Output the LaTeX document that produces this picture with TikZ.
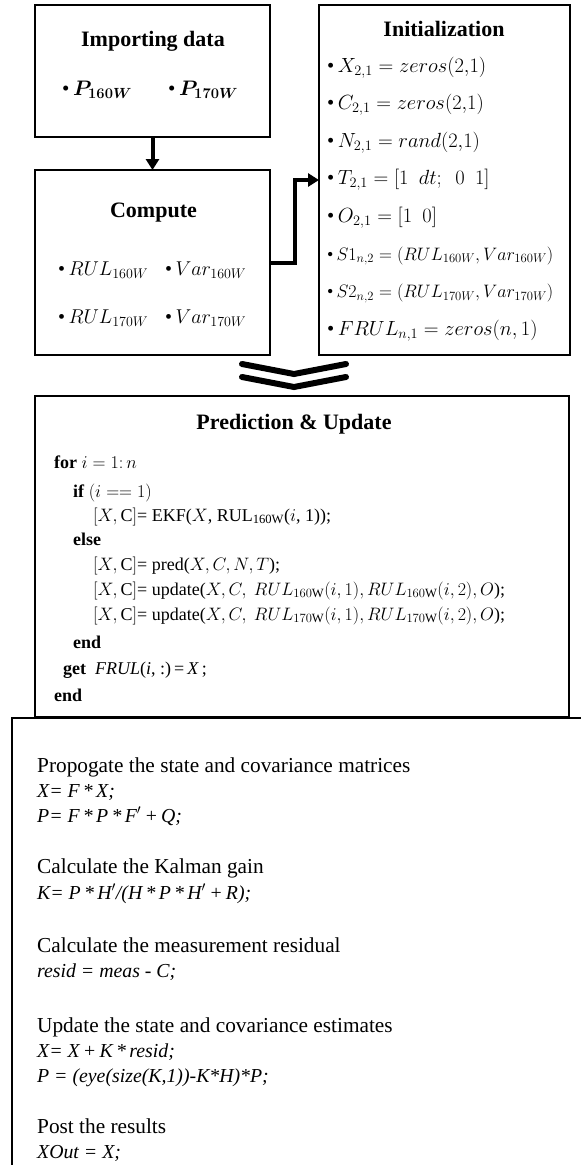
\RequirePackage{fix-cm}
\documentclass[tikz,border=0pt]{standalone}
\usepackage{amsmath,bm}
\usepackage{fontspec}
\setmainfont{Liberation Serif}
\usetikzlibrary{arrows.meta}
\newcommand{\ttlfont}{\fontsize{22}{26}\selectfont\bfseries}
\newcommand{\impfont}{\fontsize{21}{25}\selectfont}
\newcommand{\cmpfont}{\fontsize{20}{24}\selectfont}
\newcommand{\itmfont}{\fontsize{20.5}{24}\selectfont}
\newcommand{\smlfont}{\fontsize{18}{22}\selectfont}
\newcommand{\codefont}{\fontsize{18}{22}\selectfont}
\newcommand{\headfont}{\fontsize{21.3}{25}\selectfont}
\newcommand{\formfont}{\fontsize{19.8}{23}\selectfont\itshape}
\newcommand{\bul}{\textbullet\,}
\tikzset{
  boxx/.style={draw, line width=2.2pt, inner sep=0pt, outer sep=0pt},
  ttl/.style={font=\ttlfont, anchor=base, inner sep=0pt},
  impi/.style={font=\impfont, anchor=base west, inner sep=0pt},
  cmpi/.style={font=\cmpfont, anchor=base west, inner sep=0pt},
  itm/.style={font=\itmfont, anchor=base west, inner sep=0pt},
  sml/.style={font=\smlfont, anchor=base west, inner sep=0pt},
  code/.style={font=\codefont, anchor=base west, inner sep=0pt},
  head/.style={font=\headfont, anchor=base west, inner sep=0pt},
  form/.style={font=\formfont, anchor=base west, inner sep=0pt},
  arr/.style={line width=4pt, -{Triangle[length=11pt,width=13pt]}},
  chev/.style={line width=6pt, line cap=round, line join=miter}
}
\begin{document}
\begin{tikzpicture}[x=1pt,y=-1pt]
\useasboundingbox (0,0) rectangle (581,1165);
\clip (0,0) rectangle (581,1165);
\fill[white] (0,0) rectangle (581,1165);
% boxes
\node[boxx, minimum width=235pt, minimum height=132pt] (imp) at (152.5,71) {};
\node[boxx, minimum width=235pt, minimum height=185pt] (cmp) at (152.5,262.5) {};
\node[boxx, minimum width=251pt, minimum height=350pt] (init) at (444.5,180) {};
\node[boxx, minimum width=534pt, minimum height=321pt] (pred) at (302,556.5) {};
\node[boxx, minimum width=620pt, minimum height=500pt, anchor=north west] (kal) at (12,718) {};
% connectors
\draw[arr] (imp.south) -- (cmp.north);
\draw[arr] (cmp.east) -- ++(25,0) |- (init.west);
\coordinate (c1l) at (242,364); \coordinate (c1m) at (294,374); \coordinate (c1r) at (346,364);
\coordinate (c2l) at (242,377); \coordinate (c2m) at (294,387); \coordinate (c2r) at (346,377);
\draw[chev] (c1l) -- (c1m) -- (c1r);
\draw[chev] (c2l) -- (c2m) -- (c2r);
% importing
\node[ttl] (impt) at (153,46) {Importing data};
\node[impi] (imp1) at (62,95) {\bul$\bm{P_{160W}}$};
\node[impi] (imp2) at (168,95) {\bul$\bm{P_{170W}}$};
% compute
\node[ttl] (cmpt) at (153.5,217) {Compute};
\node[cmpi] (cmp1) at (58,275) {\bul$RUL_{160W}$};
\node[cmpi] (cmp2) at (165,275) {\bul$Var_{160W}$};
\node[cmpi] (cmp3) at (58,323) {\bul$RUL_{170W}$};
\node[cmpi] (cmp4) at (165,323) {\bul$Var_{170W}$};
% init
\node[ttl] (initt) at (444,36) {Initialization};
\node[itm] (in1) at (327,72) {\bul$X_{2,1} = zeros(2{,}1)$};
\node[itm] (in2) at (327,109.6) {\bul$C_{2,1} = zeros(2{,}1)$};
\node[itm] (in3) at (327,147.2) {\bul$N_{2,1} = rand(2{,}1)$};
\node[itm] (in4) at (327,184.8) {\bul$T_{2,1} = [1\ \ dt;\ \ 0\ \ 1]$};
\node[itm] (in5) at (327,222.4) {\bul$O_{2,1} = [1\ \ 0]$};
\node[sml] (in6) at (327,260) {\bul$S1_{n,2} = (RUL_{160W}, Var_{160W})$};
\node[sml] (in7) at (327,297.6) {\bul$S2_{n,2} = (RUL_{170W}, Var_{170W})$};
\node[itm] (in8) at (327,335.2) {\bul$FRUL_{n,1} = zeros(n,1)$};
% prediction
\node[ttl] (predt) at (294,429) {Prediction \& Update};
\node[code] (p1) at (54,468) {\textbf{for} $i = 1{:}\,n$};
\node[code] (p2) at (73,497) {\textbf{if} $(i \mathrel{==} 1)$};
\node[code] (p3) at (93,521) {$[X, \mathrm{C}]$= EKF($X$, RUL$_{\mathrm{160W}}$($i$, 1));};
\node[code] (p4) at (73,545) {\textbf{else}};
\node[code] (p5) at (93,570) {$[X, \mathrm{C}]$= pred($X, C, N, T$);};
\node[code] (p6) at (93,595) {$[X, \mathrm{C}]$= update($X, C,\ RUL_{160\mathrm{W}}(i, 1), RUL_{160\mathrm{W}}(i, 2), O$);};
\node[code] (p7) at (93,620) {$[X, \mathrm{C}]$= update($X, C,\ RUL_{170\mathrm{W}}(i, 1), RUL_{170\mathrm{W}}(i, 2), O$);};
\node[code] (p8) at (73,648) {\textbf{end}};
\node[code] (p9) at (63,674) {\textbf{get}\ \ \textit{FRUL}(\textit{i}, :)\,=\,\textit{X}\,;};
\node[code] (p10) at (54,701) {\textbf{end}};
% kalman
\node[head] (k1) at (37,772) {Propogate the state and covariance matrices};
\node[form] (k2) at (37,797) {X= F\,*\,X;};
\node[form] (k3) at (37,822) {P= F\,*\,P\,*\,F$'$\,+\,Q;};
\node[head] (k4) at (37,873) {Calculate the Kalman gain};
\node[form] (k5) at (37,899) {K= P\,*\,H$'$/(H\,*\,P\,*\,H$'$\,+\,R);};
\node[head] (k6) at (37,952) {Calculate the measurement residual};
\node[form] (k7) at (37,977) {resid = meas - C;};
\node[head] (k8) at (37,1032) {Update the state and covariance estimates};
\node[form] (k9) at (37,1057) {X= X\,+\,K\,*\,resid;};
\node[form] (k10) at (37,1082) {P = (eye(size(K,1))-K*H)*P;};
\node[head] (k11) at (37,1133) {Post the results};
\node[form] (k12) at (37,1158) {XOut = X;};
\end{tikzpicture}
\end{document}
